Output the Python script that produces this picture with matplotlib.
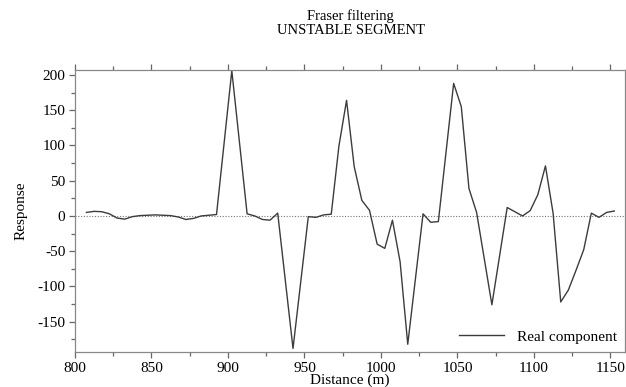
import matplotlib
matplotlib.use("Agg")
import matplotlib.pyplot as plt
from matplotlib.ticker import MultipleLocator

# Fraser filtered response along the unstable segment
distance = [807.5, 812.5, 817.5, 822.5, 827.5, 832.5, 837.5, 842.5, 847.5, 852.5,
            857.5, 862.5, 867.5, 872.5, 877.5, 882.5, 887.5, 892.5, 902.5, 912.5,
            917.5, 922.5, 927.5, 932.5, 942.5, 952.5, 957.5, 962.5, 967.5, 972.5,
            977.5, 982.5, 987.5, 992.5, 997.5, 1002.5, 1007.5, 1012.5, 1017.5, 1027.5,
            1032.5, 1037.5, 1047.5, 1052.5, 1057.5, 1062.5, 1072.5, 1082.5, 1092.5, 1097.5,
            1102.5, 1107.5, 1112.5, 1117.5, 1122.5, 1127.5, 1132.5, 1137.5, 1142.5, 1147.5,
            1152.5]
real_component = [5, 6.5, 6, 3, -3, -4.5, -1, 0.5, 1, 1.5,
                  1, 0.5, -1.5, -5, -3.5, 0, 1, 2, 206, 3,
                  0, -5, -6, 4, -188, -1, -2, 1.5, 2.5, 99,
                  164, 70, 22, 8, -40, -46, -6, -65, -182, 3,
                  -9, -8, 188, 155, 39, 5, -126, 12, 0, 7.5,
                  30, 71, 4, -122, -105, -77, -48, 4, -2, 5,
                  7]

plt.rcParams['font.family'] = ['Liberation Serif', 'DejaVu Serif']
plt.rcParams['axes.unicode_minus'] = False

fig = plt.figure(figsize=(6.26, 3.87), dpi=100)
ax = fig.add_axes([0.1198, 0.0904, 0.8786, 0.7287])

ax.axhline(0, color='#777777', lw=0.8, ls=(0, (1, 1.5)))
ax.plot(distance, real_component, color='#3c3c3c', lw=1.0, label='Real component')

ax.set_xlim(800, 1159.5)
ax.set_ylim(-193, 207)
ax.xaxis.set_major_locator(MultipleLocator(50))
ax.xaxis.set_minor_locator(MultipleLocator(25))
ax.yaxis.set_major_locator(MultipleLocator(50))
ax.yaxis.set_minor_locator(MultipleLocator(25))
ax.tick_params(which='both', direction='out', top=True, right=False,
               color='#666666', labelsize=11, width=0.9)
ax.tick_params(which='major', length=4, pad=3)
ax.tick_params(which='minor', length=3)

for s in ax.spines.values():
    s.set_color('#888888')
    s.set_linewidth(0.9)

ax.set_xlabel('Distance (m)', fontsize=11, labelpad=-1)
ax.set_ylabel('Response', fontsize=11, labelpad=7)
fig.text(0.56, 0.958, 'Fraser filtering', ha='center', va='center', fontsize=10.5)
fig.text(0.56, 0.922, 'UNSTABLE SEGMENT', ha='center', va='center', fontsize=10.5)

ax.legend(loc='lower right', frameon=False, fontsize=11, handlelength=3.0,
          borderaxespad=0.15, handletextpad=0.8)

fig.savefig('out.png', dpi=100)
